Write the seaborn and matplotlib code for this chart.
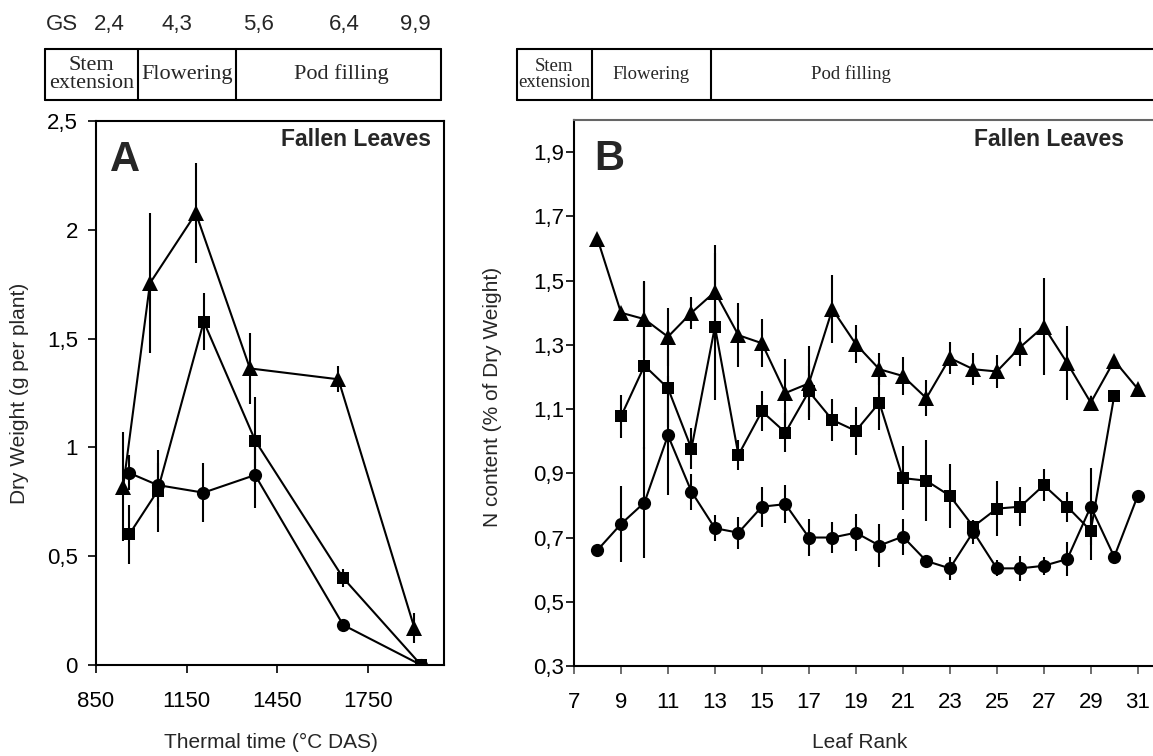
import matplotlib
matplotlib.use("Agg")
import matplotlib.pyplot as plt
import seaborn as sns
import pandas as pd
from matplotlib.lines import Line2D
from matplotlib.ticker import FuncFormatter

sns.set_style("white")
plt.rcParams['font.family'] = ['Liberation Sans', 'DejaVu Sans']

# ---------------- Panel A data ----------------
tri_t = [940, 1029, 1181, 1360, 1653, 1905]
tri_dw = [0.82, 1.755, 2.076, 1.363, 1.313, 0.17]
tri_dw_err = [0.25, 0.32, 0.23, 0.165, 0.06, 0.07]

sq_t = [960, 1054, 1207, 1378, 1669, 1927]
sq_dw = [0.60, 0.80, 1.578, 1.03, 0.40, 0.0]
sq_dw_err = [0.135, 0.19, 0.13, 0.20, 0.04, 0.0]

ci_t = [958, 1054, 1206, 1377, 1669, 1927]
ci_dw = [0.884, 0.827, 0.792, 0.873, 0.184, 0.0]
ci_dw_err = [0.08, 0.10, 0.135, 0.15, 0.0, 0.0]

# ---------------- Panel B data ----------------
tri_rank = list(range(8, 32))
tri_n = [1.63, 1.40, 1.38, 1.325, 1.40, 1.465, 1.33, 1.305, 1.15, 1.18, 1.411, 1.302,
         1.224, 1.203, 1.134, 1.259, 1.224, 1.217, 1.293, 1.357, 1.243, 1.12, 1.251, 1.163]
tri_n_err = [0, 0, 0.12, 0.09, 0.05, 0.145, 0.10, 0.075, 0.105, 0.115, 0.105, 0.06,
             0.05, 0.06, 0.055, 0.05, 0.05, 0.05, 0.06, 0.15, 0.115, 0.02, 0, 0]

sq_rank = list(range(9, 31))
sq_n = [1.077, 1.235, 1.165, 0.977, 1.357, 0.957, 1.093, 1.027, 1.155, 1.066, 1.032,
        1.12, 0.885, 0.877, 0.83, 0.734, 0.79, 0.796, 0.863, 0.796, 0.721, 1.142]
sq_n_err = [0.068, 0.26, 0.12, 0.065, 0.23, 0.047, 0.062, 0.06, 0.08, 0.065, 0.075,
            0.085, 0.10, 0.127, 0.10, 0.02, 0.085, 0.06, 0.05, 0.047, 0.09, 0]

ci_rank = list(range(8, 32))
ci_n = [0.661, 0.742, 0.809, 1.018, 0.843, 0.729, 0.715, 0.796, 0.804, 0.70, 0.70, 0.715,
        0.675, 0.703, 0.627, 0.604, 0.718, 0.604, 0.604, 0.612, 0.633, 0.796, 0.64, 0.83]
ci_n_err = [0, 0.118, 0.173, 0.185, 0.056, 0.04, 0.05, 0.062, 0.058, 0.058, 0.047, 0.057,
            0.066, 0.056, 0.02, 0.036, 0.037, 0.025, 0.04, 0.028, 0.053, 0.12, 0, 0]

# header texts
gs_labels = ["GS", "2,4", "4,3", "5,6", "6,4", "9,9"]
stage_labels = ["Stem\nextension", "Flowering", "Pod filling"]

W, H = 1153, 756
fig = plt.figure(figsize=(W / 100, H / 100), dpi=100)


def fx(x):
    return x / W


def fy(y):
    return 1 - y / H


axA = fig.add_axes([fx(96), fy(665), fx(444) - fx(96), fy(121) - fy(665)])
axB = fig.add_axes([fx(574), fy(666), fx(1153) - fx(574), fy(120) - fy(666)])

LW = 1.5


def draw(ax, x, y, err, marker, ms):
    df = pd.DataFrame({"x": x, "y": y, "e": err})
    ax.errorbar(df["x"], df["y"], yerr=df["e"], fmt="none", ecolor="black",
                elinewidth=LW, capsize=0, zorder=2)
    sns.lineplot(data=df, x="x", y="y", ax=ax, color="black", lw=LW,
                 marker=marker, markersize=ms, markeredgewidth=0,
                 markerfacecolor="black", sort=False, zorder=3)


# Panel A
draw(axA, tri_t, tri_dw, tri_dw_err, "^", 11)
draw(axA, sq_t, sq_dw, sq_dw_err, "s", 8.5)
draw(axA, ci_t, ci_dw, ci_dw_err, "o", 9.5)
axA.set_xlim(850, 2003)
axA.set_ylim(0, 2.5)
axA.set_xticks([850, 1150, 1450, 1750])
axA.set_yticks([0, 0.5, 1, 1.5, 2, 2.5])

# Panel B
draw(axB, tri_rank, tri_n, tri_n_err, "^", 11)
draw(axB, sq_rank, sq_n, sq_n_err, "s", 8.5)
draw(axB, ci_rank, ci_n, ci_n_err, "o", 9.5)
axB.set_xlim(7, 31.65)
axB.set_ylim(0.3, 2.0)
axB.set_xticks(list(range(7, 32, 2)))
axB.set_yticks([0.3, 0.5, 0.7, 0.9, 1.1, 1.3, 1.5, 1.7, 1.9])

fmt = FuncFormatter(lambda v, p: ("%g" % round(v, 2)).replace(".", ","))
for ax in (axA, axB):
    ax.set_xlabel("")
    ax.set_ylabel("")
    ax.yaxis.set_major_formatter(fmt)
    ax.tick_params(axis="both", which="major", direction="out", length=6,
                   width=1.2, labelsize=16, color="black", labelcolor="black",
                   bottom=True, left=True)
    ax.tick_params(axis="x", pad=13)
    for s in ax.spines.values():
        s.set_color("black")
        s.set_linewidth(1.5)

axA.tick_params(axis="y", pad=7)
axB.tick_params(axis="y", pad=1)
axB.tick_params(axis="x", color="#555555")
axB.spines["right"].set_visible(False)
axB.spines["top"].set_color("#666666")

# in-panel texts
axA.text(0.04, 0.965, "A", transform=axA.transAxes, fontsize=30,
         fontweight="bold", ha="left", va="top")
axB.text(0.035, 0.965, "B", transform=axB.transAxes, fontsize=30,
         fontweight="bold", ha="left", va="top")
fig.text(fx(431), fy(140), "Fallen Leaves", fontsize=16.5, fontweight="bold",
         ha="right", va="center")
fig.text(fx(1124), fy(139), "Fallen Leaves", fontsize=16.5, fontweight="bold",
         ha="right", va="center")

# axis labels
fig.text(fx(20), fy(393), "Dry Weight (g per plant)", rotation=90,
         fontsize=15, ha="center", va="center")
fig.text(fx(493), fy(397), "N content (% of Dry Weight)", rotation=90,
         fontsize=15, ha="center", va="center")
fig.text(fx(271), fy(742), "Thermal time (°C DAS)", fontsize=15,
         ha="center", va="center")
fig.text(fx(860), fy(742), "Leaf Rank", fontsize=15, ha="center", va="center")

# GS row
gs_x = [62, 109, 177, 258, 344, 415]
for lab, x in zip(gs_labels, gs_x):
    fig.text(fx(x), fy(30), lab, fontsize=16, ha="center", va="baseline")

# stage tables
serif = ["Liberation Serif", "DejaVu Serif"]


def table(x0, x1, x2, x3, centers, size, draw_right=True):
    ytop, ybot = 49, 100
    kw = dict(color="black", lw=1.5, transform=fig.transFigure)
    fig.add_artist(Line2D([fx(x0), fx(x3)], [fy(ytop), fy(ytop)], **kw))
    fig.add_artist(Line2D([fx(x0), fx(x3)], [fy(ybot), fy(ybot)], **kw))
    xs = [x0, x1, x2] + ([x3] if draw_right else [])
    for x in xs:
        fig.add_artist(Line2D([fx(x), fx(x)], [fy(ytop), fy(ybot)], **kw))
    for lab, c in zip(stage_labels, centers):
        fig.text(fx(c), fy(74.5), lab, fontsize=size, family=serif,
                 ha="center", va="center", linespacing=0.92)


table(45, 138, 236, 441, [91.5, 187, 341], 16)
table(517, 592, 711, 1153, [554.5, 651, 851], 13.5, draw_right=False)

fig.savefig("out.png", dpi=100)
